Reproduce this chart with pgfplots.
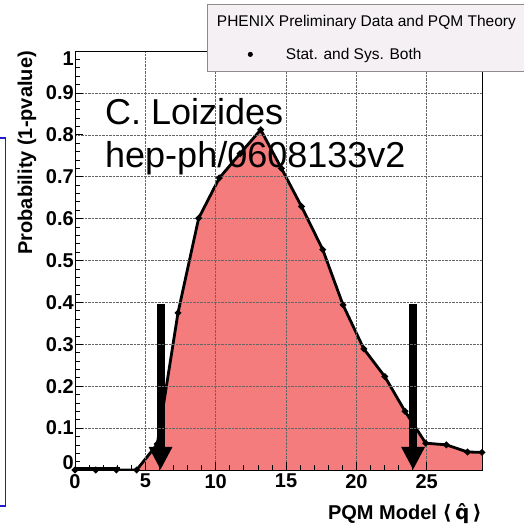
\documentclass[border=0pt]{standalone}
\usepackage{pgfplots}
\pgfplotsset{compat=1.18}
\usetikzlibrary{arrows.meta}
\usepackage{fontspec}
\setmainfont{Liberation Sans}
\newfontfamily\dejavu{DejaVu Sans}
\definecolor{fillred}{RGB}{244,124,124}
\definecolor{legfill}{RGB}{244,240,244}
\definecolor{boxblue}{RGB}{30,30,200}
\begin{document}
\begin{tikzpicture}[x=1pt,y=1pt]
\useasboundingbox (0,0) rectangle (523,524);
\draw[boxblue, line width=1.2pt] (-3,386) -- (5.7,386) -- (5.7,18) -- (-3,18);
\begin{axis}[
  at={(75pt,54pt)}, anchor=south west,
  scale only axis, width=407pt, height=419pt,
  xmin=0, xmax=28.93, ymin=0, ymax=1,
  xtick={0,5,10,15,20,25}, ytick={0,0.1,0.2,0.3,0.4,0.5,0.6,0.7,0.8,0.9,1},
  yticklabels={\smash{\raisebox{1pt}{0}},0.1,0.2,0.3,0.4,0.5,0.6,0.7,0.8,0.9,\smash{\raisebox{-14.5pt}{1}}},
  minor x tick num=4, minor y tick num=4,
  xtick pos=left, ytick pos=left,
  tick align=inside, major tick length=8pt, minor tick length=5pt,
  grid=major, major grid style={densely dotted, black!60, line width=0.5pt},
  axis line style={line width=0.9pt},
  tick style={black, line width=0.7pt},
  ticklabel style={font=\fontsize{20}{20}\selectfont\bfseries},
  /pgf/number format/assume math mode=true,
  yticklabel style={inner sep=1pt},
  xticklabel style={inner sep=1pt, yshift=-3pt},
  axis on top,
  xlabel={PQM Model {\dejavu\bfseries ⟨\,q̂\,⟩}},
  xlabel style={font=\fontsize{20}{20}\selectfont\bfseries, at={(axis description cs:1,0)}, anchor=north east, inner sep=0pt, yshift=-33pt},
  ylabel={Probability (1-pvalue)},
  ylabel style={font=\fontsize{20}{20}\selectfont\bfseries, at={(axis description cs:-0.118,1)}, anchor=east, inner sep=0pt},
  legend style={at={(0.3243,1.1122)}, anchor=north west, draw=black!45, fill=legfill, line width=0.6pt,
    font=\fontsize{15.5}{17}\selectfont, inner xsep=34.5pt, inner ysep=9pt, row sep=16pt,
    nodes={inner sep=2pt}},
  legend cell align=left,
]
\addplot[fill=fillred, draw=none, forget plot] coordinates {
(0,0) (1.47,0) (2.94,0) (4.38,0) (5.85,0.062) (7.32,0.375) (8.79,0.601) (10.26,0.697)
(11.73,0.755) (13.2,0.812) (14.67,0.72) (16.1,0.629) (17.61,0.526) (19.05,0.394)
(20.53,0.289) (22.02,0.223) (23.46,0.14) (24.93,0.064) (26.4,0.060) (27.9,0.043) (28.93,0.042)
} \closedcycle;
\addplot[black, line width=5pt, forget plot] coordinates {(0,0) (3.2,0)};
\addplot[black, line width=2.8pt, mark=*, mark size=1.6pt, forget plot] coordinates {
(0,0) (1.47,0) (2.94,0) (4.38,0) (5.85,0.062) (7.32,0.375) (8.79,0.601) (10.26,0.697)
(11.73,0.755) (13.2,0.812) (14.67,0.72) (16.1,0.629) (17.61,0.526) (19.05,0.394)
(20.53,0.289) (22.02,0.223) (23.46,0.14) (24.93,0.064) (26.4,0.060) (27.9,0.043) (28.93,0.042)
};
\addplot[black, line width=8pt, -{Triangle[width=22pt,length=23pt]}, forget plot] coordinates {(6.08,0.395) (6.08,0)};
\addplot[black, line width=8pt, -{Triangle[width=22pt,length=23pt]}, forget plot] coordinates {(24.03,0.395) (24.03,0)};
\addlegendimage{empty legend}
\addlegendentry{\hspace*{-37.6pt}PHENIX Preliminary Data and PQM Theory}
\addlegendimage{only marks, mark=*, mark size=2.2pt, black}
\addlegendentry{\hspace*{31.4pt}Stat. and Sys. Both}
\end{axis}
\node[anchor=base west, inner sep=0pt, font=\fontsize{36}{36}\selectfont] at (105,399) {C. Loizides};
\node[anchor=base west, inner sep=0pt, font=\fontsize{36}{36}\selectfont] at (105,356) {hep-ph/0608133v2};
\end{tikzpicture}
\end{document}
